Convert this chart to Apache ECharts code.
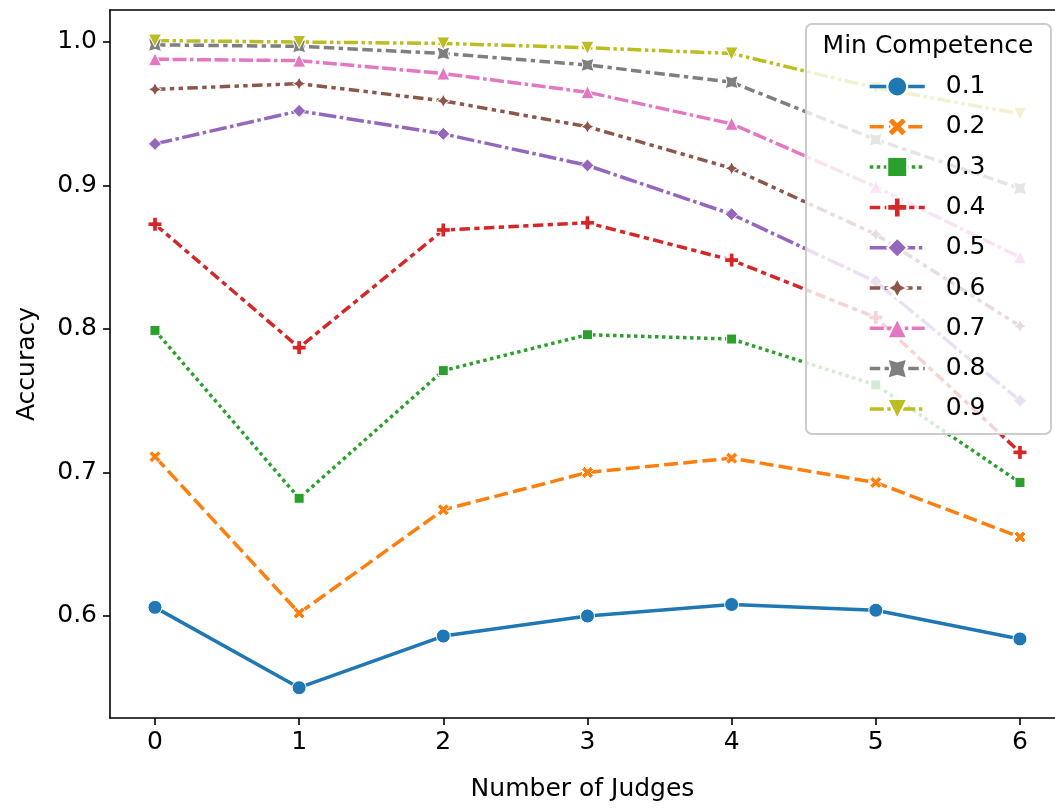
<!DOCTYPE html>
<html>
<head>
<meta charset="utf-8">
<script src="https://cdn.jsdelivr.net/npm/echarts@6/dist/echarts.min.js"></script>
<style>
html,body{margin:0;padding:0;background:#fff;}
#chart{width:1055px;height:812px;}
</style>
</head>
<body>
<div id="chart"></div>
<script>
// ---- data ----
const judges = [0, 1, 2, 3, 4, 5, 6];
const competenceLevels = ['0.1', '0.2', '0.3', '0.4', '0.5', '0.6', '0.7', '0.8', '0.9'];
const acc_01 = [0.606, 0.550, 0.586, 0.600, 0.608, 0.604, 0.584];
const acc_02 = [0.711, 0.602, 0.674, 0.700, 0.710, 0.693, 0.655];
const acc_03 = [0.799, 0.682, 0.771, 0.796, 0.793, 0.761, 0.693];
const acc_04 = [0.873, 0.787, 0.869, 0.874, 0.848, 0.808, 0.714];
const acc_05 = [0.929, 0.952, 0.936, 0.914, 0.880, 0.833, 0.750];
const acc_06 = [0.967, 0.971, 0.959, 0.941, 0.912, 0.866, 0.802];
const acc_07 = [0.988, 0.987, 0.978, 0.965, 0.943, 0.899, 0.850];
const acc_08 = [0.998, 0.997, 0.992, 0.984, 0.972, 0.932, 0.898];
const acc_09 = [1.001, 1.000, 0.999, 0.996, 0.992, 0.968, 0.950];
const xTicks = [0, 1, 2, 3, 4, 5, 6];
const yTicks = [0.6, 0.7, 0.8, 0.9, 1.0];
const xLabel = 'Number of Judges';
const yLabel = 'Accuracy';
const legendTitle = 'Min Competence';

const allSeries = [acc_01, acc_02, acc_03, acc_04, acc_05, acc_06, acc_07, acc_08, acc_09];

// ---- styles ----
const colors = ['#1f77b4', '#ff7f0e', '#2ca02c', '#d62728', '#9467bd', '#8c564b', '#e377c2', '#7f7f7f', '#bcbd22'];
const LW = 3.5;
const dashPatterns = [null, [4, 1.5], [1, 1], [3, 1.25, 1.5, 1.25], [5, 1, 1, 1],
  [3, 1.25, 1.25, 1.25, 1.25, 1.25], [4, 1, 4, 1, 1, 1], [3, 1.25, 3, 1.25, 1.25, 1.25], [4, 1, 1, 1, 1, 1]];
const PLUS = 'path://M-1,-3 L1,-3 L1,-1 L3,-1 L3,1 L1,1 L1,3 L-1,3 L-1,1 L-3,1 L-3,-1 L-1,-1 Z';
const XMARK = 'path://M2,-4 L0,-2 L-2,-4 L-4,-2 L-2,0 L-4,2 L-2,4 L0,2 L2,4 L4,2 L2,0 L4,-2 Z';
const STAR4 = 'path://M0,-10 L3.54,-3.54 L10,0 L3.54,3.54 L0,10 L-3.54,3.54 L-10,0 L-3.54,-3.54 Z';
const STAR4X = 'path://M-7.07,-7.07 L0,-5 L7.07,-7.07 L5,0 L7.07,7.07 L0,5 L-7.07,7.07 L-5,0 Z';
const TRI_DOWN = 'path://M-1,-1 L1,-1 L0,1 Z';
const symbols = ['circle', XMARK, 'rect', PLUS, 'diamond', STAR4, 'triangle', STAR4X, TRI_DOWN];
const symSizes = [14, 12, 10, 14, 13, 13, 13, 13, 13];

const FONT = 'DejaVu Sans';
const X_MIN = -0.312, X_MAX = 6.243;

const series = allSeries.map((vals, i) => ({
  name: competenceLevels[i],
  type: 'line',
  xAxisIndex: 0,
  data: judges.map((j, k) => [j, vals[k]]),
  symbol: symbols[i],
  symbolSize: symSizes[i],
  showSymbol: true,
  color: colors[i],
  lineStyle: {
    color: colors[i],
    width: LW,
    type: dashPatterns[i] ? dashPatterns[i].map(v => v * LW) : 'solid'
  },
  itemStyle: { color: colors[i], borderColor: '#ffffff', borderWidth: 1, opacity: 1 },
  emphasis: { disabled: true },
  animation: false
}));

const chart = echarts.init(document.getElementById('chart'), null, { renderer: 'canvas' });
chart.setOption({
  animation: false,
  backgroundColor: '#ffffff',
  grid: {
    left: 110, right: 0, top: 10, bottom: 94, show: false
  },
  xAxis: [{
    type: 'value',
    min: X_MIN, max: X_MAX,
    name: xLabel,
    nameLocation: 'middle',
    nameGap: 59,
    nameTextStyle: { fontFamily: FONT, fontSize: 25, color: '#000' },
    axisLine: { show: true, onZero: false, lineStyle: { color: '#000', width: 1.6 } },
    axisTick: { show: true, customValues: xTicks, length: 7, lineStyle: { color: '#000', width: 1.6 } },
    axisLabel: { customValues: xTicks, fontFamily: FONT, fontSize: 25, color: '#000', margin: 12 },
    splitLine: { show: false }
  }, {
    type: 'value',
    position: 'top',
    min: X_MIN, max: X_MAX,
    axisLine: { show: true, onZero: false, lineStyle: { color: '#000', width: 1.6 } },
    axisTick: { show: false },
    axisLabel: { show: false },
    splitLine: { show: false }
  }],
  yAxis: {
    type: 'value',
    min: 0.5289, max: 1.0223,
    name: yLabel,
    nameLocation: 'middle',
    nameGap: 70,
    nameTextStyle: { fontFamily: FONT, fontSize: 25, color: '#000' },
    axisLine: { show: true, onZero: false, lineStyle: { color: '#000', width: 1.6 } },
    axisTick: { show: true, customValues: yTicks, length: 7, lineStyle: { color: '#000', width: 1.6 } },
    axisLabel: { customValues: yTicks, fontFamily: FONT, fontSize: 25, color: '#000', margin: 13,
      formatter: v => v.toFixed(1) },
    splitLine: { show: false }
  },
  legend: {
    orient: 'vertical',
    left: 868,
    top: 74,
    padding: 0,
    itemWidth: 55,
    itemHeight: 25,
    itemGap: 15.3,
    z: 100,
    data: competenceLevels,
    selectedMode: false,
    lineStyle: { width: LW },
    textStyle: { fontFamily: FONT, fontSize: 25, color: '#000', padding: [0, 0, 0, 16] }
  },
  graphic: [
    {
      type: 'rect', z: 90,
      shape: { x: 806, y: 24, width: 245, height: 410, r: 6 },
      style: { fill: 'rgba(255,255,255,0.8)', stroke: '#cccccc', lineWidth: 2 }
    },
    {
      type: 'text', z: 101,
      x: 928, y: 46,
      style: { text: legendTitle, fontFamily: FONT, fontSize: 25, fill: '#000', align: 'center', verticalAlign: 'middle' }
    }
  ],
  series: series
});
</script>
</body>
</html>
